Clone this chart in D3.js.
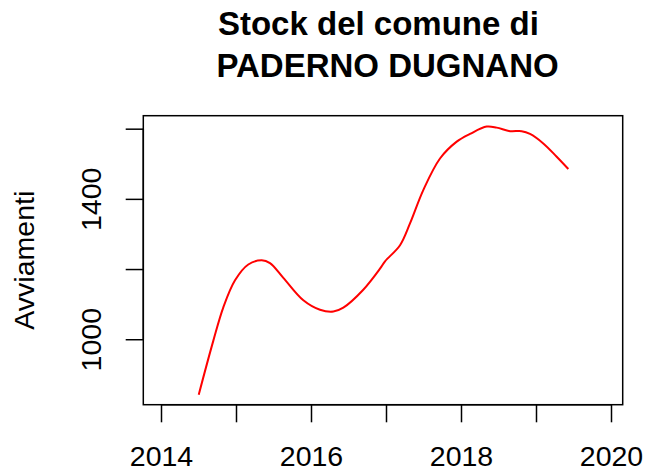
<!DOCTYPE html>
<html>
<head>
<meta charset="utf-8">
<script src="https://cdn.jsdelivr.net/npm/d3@7"></script>
<style>
  html, body { margin: 0; padding: 0; background: #fff; }
  svg { display: block; }
  text { font-family: "Liberation Sans", Arial, Helvetica, sans-serif; fill: #000; white-space: pre; }
</style>
</head>
<body>
<svg id="chart" width="645" height="471"></svg>
<script>
// ---- data ----
const years = [2014.503, 2014.698, 2014.831, 2014.987, 2015.164, 2015.343, 2015.453, 2015.631,
  2015.898, 2016.12, 2016.298, 2016.431, 2016.697, 2016.92, 2016.987, 2017.187, 2017.32,
  2017.497, 2017.72, 2017.943, 2018.12, 2018.343, 2018.476, 2018.653, 2018.809, 2018.92,
  2019.097, 2019.276, 2019.431];
const avviamenti = [842, 996, 1091, 1168, 1213, 1225, 1217, 1175,
  1111, 1084, 1079, 1090, 1141, 1201, 1222, 1268, 1330,
  1425, 1515, 1563, 1585, 1606, 1603, 1593, 1593, 1585,
  1558, 1520, 1485];
const xTicks = [2014, 2015, 2016, 2017, 2018, 2019, 2020];
const xLabels = [2014, 2016, 2018, 2020];
const yTicks = [1000, 1200, 1400, 1600];
const yLabels = [1000, 1400];
const titleLines = ["Stock del comune di ", " PADERNO DUGNANO"];
const yTitle = "Avviamenti";

// ---- layout ----
const L = 143.3, R = 622.7, T = 115.7, B = 404.7;
const xDomain = [2013.764, 2020.156];
const yDomain = [813.4, 1637];
const tickLen = 17.6;
const axisFont = 28.5, titleFont = 33;

const svg = d3.select("#chart");
const x = d3.scaleLinear().domain(xDomain).range([L, R]);
const y = d3.scaleLinear().domain(yDomain).range([B, T]);

// line
const pts = years.map((d, i) => [d, avviamenti[i]]);
svg.append("path")
  .datum(pts)
  .attr("fill", "none")
  .attr("stroke", "#ff0000")
  .attr("stroke-width", 2)
  .attr("stroke-linejoin", "round")
  .attr("d", d3.line().x(d => x(d[0])).y(d => y(d[1])).curve(d3.curveCatmullRom.alpha(0.5)));

// box
svg.append("rect")
  .attr("x", L).attr("y", T).attr("width", R - L).attr("height", B - T)
  .attr("fill", "none").attr("stroke", "#000").attr("stroke-width", 1.5);

// x axis
const xAxis = d3.axisBottom(x).tickValues(xTicks).tickSize(tickLen)
  .tickFormat(d => xLabels.includes(d) ? String(d) : "");
const gx = svg.append("g").attr("transform", `translate(0,${B})`).call(xAxis);
gx.select(".domain").attr("d", `M${x(xTicks[0])},0H${x(xTicks[xTicks.length-1])}`)
  .attr("stroke", "#000").attr("stroke-width", 1.5);
gx.selectAll(".tick line").attr("stroke", "#000").attr("stroke-width", 1.5);
gx.selectAll(".tick text")
  .attr("font-size", axisFont)
  .attr("font-family", "Liberation Sans, Arial, sans-serif")
  .attr("fill", "#000")
  .attr("dy", null)
  .attr("y", 466.5 - B);

// y axis
const yAxis = d3.axisLeft(y).tickValues(yTicks).tickSize(tickLen)
  .tickFormat(d => yLabels.includes(d) ? String(d) : "");
const gy = svg.append("g").attr("transform", `translate(${L},0)`).call(yAxis);
gy.select(".domain").attr("d", `M0,${y(yTicks[0])}V${y(yTicks[yTicks.length-1])}`)
  .attr("stroke", "#000").attr("stroke-width", 1.5);
gy.selectAll(".tick line").attr("stroke", "#000").attr("stroke-width", 1.5);
gy.selectAll(".tick text")
  .attr("font-size", axisFont)
  .attr("font-family", "Liberation Sans, Arial, sans-serif")
  .attr("fill", "#000")
  .attr("x", null).attr("dy", null)
  .attr("text-anchor", "middle")
  .attr("transform", `translate(${101 - L},0) rotate(-90)`);

// y title
svg.append("text")
  .attr("transform", `translate(34,${(T + B) / 2}) rotate(-90)`)
  .attr("text-anchor", "middle")
  .attr("font-size", axisFont)
  .text(yTitle);

// title
const cx = (L + R) / 2;
[35, 77].forEach((by, i) => {
  svg.append("text")
    .attr("x", cx).attr("y", by)
    .attr("text-anchor", "middle")
    .attr("font-size", titleFont)
    .attr("font-weight", "bold")
    .text(titleLines[i]);
});
</script>
</body>
</html>
